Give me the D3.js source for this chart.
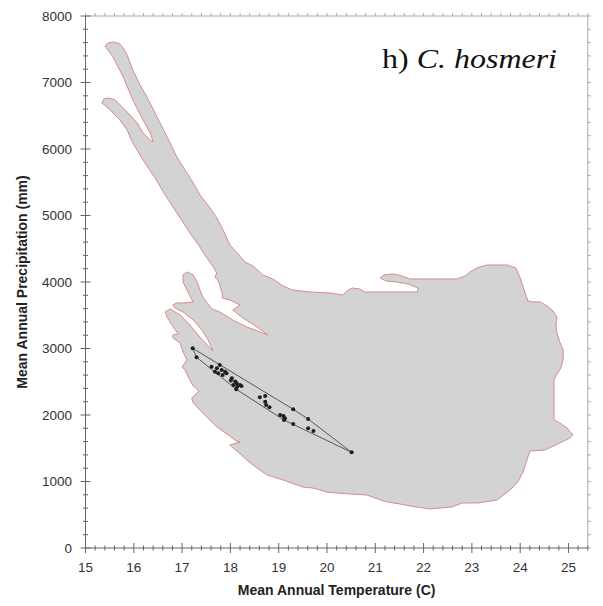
<!DOCTYPE html>
<html><head><meta charset="utf-8">
<script src="https://cdn.jsdelivr.net/npm/d3@7"></script>
<style>body{margin:0;background:#fff}</style>
</head><body><svg id="c" width="603" height="606"></svg>
<script>
// Climate envelope outline (Mean Annual Temperature C, Mean Annual Precipitation mm)
const envTemp = [15.40,15.47,15.59,15.71,15.78,15.86,15.98,16.13,16.27,16.48,16.69,16.89,17.10,17.23,17.37,17.58,17.72,17.85,17.99,18.14,18.30,18.47,18.67,18.88,19.09,19.28,19.65,20.06,20.33,20.41,20.52,20.68,20.77,21.88,21.88,21.68,21.45,21.22,21.10,21.18,21.37,21.55,21.72,22.69,22.86,22.96,23.10,23.31,23.73,23.91,24.00,24.08,24.16,24.27,24.41,24.56,24.68,24.76,24.74,24.76,24.82,24.89,24.89,24.84,24.74,24.70,24.70,24.82,24.97,25.09,25.03,24.82,24.51,24.20,24.14,24.06,23.95,23.79,23.52,23.13,22.80,22.59,22.13,21.99,21.72,21.51,21.24,20.99,20.83,20.48,20.21,20.00,19.71,19.50,19.38,19.09,18.96,18.76,18.55,18.34,18.16,18.03,17.99,18.20,18.12,17.93,17.72,17.43,17.23,17.20,17.29,17.35,17.23,17.16,17.06,17.00,17.10,17.02,16.96,16.81,16.81,16.92,16.79,16.69,16.65,16.75,16.96,17.16,17.33,17.52,17.64,17.54,17.41,17.23,17.02,16.85,16.81,16.89,17.02,17.23,17.12,17.02,17.02,17.10,17.23,17.31,17.37,17.43,17.52,17.62,17.78,18.05,18.34,18.61,18.78,18.55,18.26,18.05,18.20,17.99,17.83,17.83,17.78,17.74,17.68,17.72,17.62,17.47,17.37,17.16,16.92,16.65,16.44,16.19,15.98,15.86,15.71,15.51,15.34,15.38,15.49,15.61,15.78,15.92,16.07,16.19,16.34,16.40,16.34,16.19,15.98,15.78,15.57,15.45];
const envPrecip = [7550,7595,7610,7580,7520,7415,7189,6964,6783,6482,6181,5881,5640,5490,5309,5114,4963,4783,4557,4437,4301,4241,4106,4046,3940,3880,3850,3835,3805,3865,3910,3895,3850,3850,3910,3970,4000,4016,4061,4106,4121,4091,4046,4046,4091,4151,4211,4256,4256,4211,4061,3880,3715,3700,3700,3640,3564,3474,3354,3234,3098,2978,2828,2707,2587,2527,1925,1880,1805,1700,1654,1579,1474,1459,1324,1143,993,872,722,677,677,617,587,602,632,662,692,752,797,812,827,842,902,917,948,1023,1053,1098,1203,1324,1444,1519,1549,1594,1609,1715,1820,2030,2181,2256,2316,2361,2436,2527,2677,2722,2828,2948,3083,3158,3204,3219,3354,3474,3549,3595,3504,3354,3204,3053,2963,3128,3279,3429,3549,3610,3655,3685,3685,3700,3850,4000,4106,4151,4106,4000,3880,3775,3685,3595,3549,3429,3324,3249,3204,3324,3459,3580,3655,3730,3760,3835,3956,4031,4076,4136,4256,4407,4527,4738,5008,5309,5565,5836,6091,6287,6437,6588,6693,6753,6768,6738,6618,6512,6392,6242,6136,6106,6242,6437,6738,7084,7385,7505];
// Occurrence points
const occTemp = [17.22,17.30,17.61,17.72,17.78,17.82,17.68,17.75,17.89,17.92,17.84,18.03,18.01,18.10,18.13,18.20,18.14,18.06,18.12,18.23,18.61,18.72,18.72,18.74,18.81,19.03,19.10,19.13,19.11,19.30,19.30,19.61,19.61,19.72,20.51];
const occPrecip = [3003,2868,2727,2702,2752,2677,2652,2627,2652,2627,2602,2552,2517,2502,2477,2452,2426,2452,2387,2436,2266,2286,2200,2151,2116,2000,1985,1950,1925,2086,1865,1940,1800,1760,1439];
const xTickValues = [15,16,17,18,19,20,21,22,23,24,25];
const yTickValues = [0,1000,2000,3000,4000,5000,6000,7000,8000];
const titleLabel = "h) ";
const titleSpecies = "C. hosmeri";
const xTitle = "Mean Annual Temperature (C)";
const yTitle = "Mean Annual Precipitation (mm)";

const svg = d3.select("#c");
const x = d3.scaleLinear().domain([15, 25.4]).range([85.5, 587.8]);
const y = d3.scaleLinear().domain([0, 8000]).range([548, 16]);
const sans = "'Liberation Sans', Arial, sans-serif";

// envelope
const env = envTemp.map((t, i) => [x(t), y(envPrecip[i])]);
svg.append("path").attr("d", d3.line()(env) + "Z")
  .attr("fill", "#d3d3d3").attr("stroke", "#d98a8a").attr("stroke-width", 1).attr("stroke-linejoin", "round");

// hull + points
const pts = occTemp.map((t, i) => [x(t), y(occPrecip[i])]);
const hull = d3.polygonHull(pts);
svg.append("path").attr("d", "M" + hull.join("L") + "Z")
  .attr("fill", "none").attr("stroke", "#4a4a4a").attr("stroke-width", 0.9);
svg.selectAll("circle.pt").data(pts).join("circle").attr("class", "pt")
  .attr("cx", d => d[0]).attr("cy", d => d[1]).attr("r", 2).attr("fill", "#1e1e1e");

// frame
const [x0, x1] = x.range(), [y0, y1] = y.range();
svg.append("line").attr("x1", x0).attr("x2", x1).attr("y1", y1).attr("y2", y1).attr("stroke", "#aaa");
svg.append("line").attr("x1", x1).attr("x2", x1).attr("y1", y1).attr("y2", y0).attr("stroke", "#aaa");
svg.append("line").attr("x1", x0).attr("x2", x0).attr("y1", y1).attr("y2", y0).attr("stroke", "#666");
svg.append("line").attr("x1", x0).attr("x2", x1).attr("y1", y0).attr("y2", y0).attr("stroke", "#666");

const xMinor = d3.range(0, 53).map(i => 15 + i * 0.2);
const yMinor = d3.range(0, 41).map(i => i * 200);
const isMajor = v => Math.abs(v - Math.round(v)) < 1e-6;
// bottom ticks (crossing)
svg.selectAll("line.xt").data(xMinor).join("line").attr("class", "xt")
  .attr("x1", d => x(d)).attr("x2", d => x(d))
  .attr("y1", d => isMajor(d) ? y0 - 5 : y0 - 2.5).attr("y2", d => isMajor(d) ? y0 + 5 : y0 + 2.5)
  .attr("stroke", "#666");
// top ticks (outward)
svg.selectAll("line.xtt").data(xMinor).join("line").attr("class", "xtt")
  .attr("x1", d => x(d)).attr("x2", d => x(d)).attr("y1", y1).attr("y2", y1 - 3).attr("stroke", "#aaa");
// left ticks (crossing)
svg.selectAll("line.yt").data(yMinor).join("line").attr("class", "yt")
  .attr("y1", d => y(d)).attr("y2", d => y(d))
  .attr("x1", d => d % 1000 === 0 ? x0 - 5 : x0 - 2.5).attr("x2", d => d % 1000 === 0 ? x0 + 5 : x0 + 2.5)
  .attr("stroke", "#666");
// right ticks (outward)
svg.selectAll("line.ytr").data(yMinor).join("line").attr("class", "ytr")
  .attr("y1", d => y(d)).attr("y2", d => y(d)).attr("x1", x1).attr("x2", x1 + 3).attr("stroke", "#aaa");

// tick labels
svg.selectAll("text.xl").data(xTickValues).join("text").attr("class", "xl")
  .attr("x", d => x(d)).attr("y", 572).attr("text-anchor", "middle")
  .attr("font-family", sans).attr("font-size", 13.5).attr("fill", "#333").text(d => d);
svg.selectAll("text.yl").data(yTickValues).join("text").attr("class", "yl")
  .attr("x", 72).attr("y", d => y(d) + 4.8).attr("text-anchor", "end")
  .attr("font-family", sans).attr("font-size", 13.5).attr("fill", "#333").text(d => d);

// axis titles
svg.append("text").attr("x", (x0 + 587.8) / 2 - 0).attr("y", 595).attr("text-anchor", "middle")
  .attr("font-family", sans).attr("font-weight", "bold").attr("font-size", 14).attr("fill", "#222").text(xTitle);
svg.append("text").attr("transform", `translate(27,${(y0 + y1) / 2}) rotate(-90)`).attr("text-anchor", "middle")
  .attr("font-family", sans).attr("font-weight", "bold").attr("font-size", 14).attr("fill", "#222").text(yTitle);

// panel title
const t = svg.append("text").attr("x", 382).attr("y", 68)
  .attr("font-family", "'Liberation Serif', 'Times New Roman', serif").attr("font-size", 27).attr("fill", "#111")
  .attr("textLength", 175).attr("lengthAdjust", "spacingAndGlyphs");
t.append("tspan").text(titleLabel);
t.append("tspan").attr("font-style", "italic").text(titleSpecies);
</script></body></html>
